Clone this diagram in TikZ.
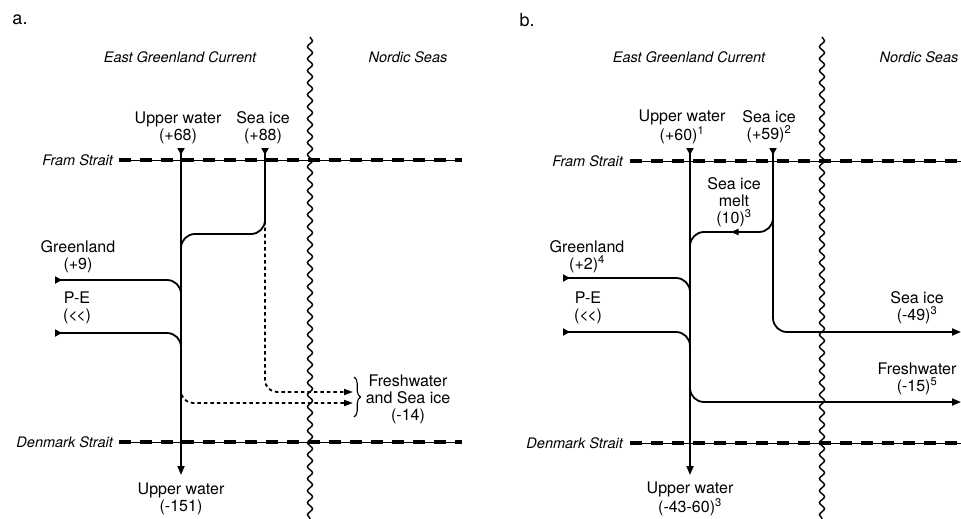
\documentclass[tikz,border=0pt]{standalone}
\usepackage{fontspec}
\setmainfont{TeX Gyre Heros}
\usetikzlibrary{arrows.meta,decorations.pathmorphing,decorations.pathreplacing,decorations.markings}
\begin{document}
\begin{tikzpicture}[x=1pt,y=-1pt,
  lbl/.style={font=\fontsize{16}{17}\selectfont, align=center, inner sep=0pt},
  reg/.style={font=\fontsize{14.5}{16}\selectfont\itshape, inner sep=0pt},
  panel/.style={font=\fontsize{18}{20}\selectfont, inner sep=0pt},
  flow/.style={line width=1.8pt, rounded corners=14pt},
  dots/.style={line width=1.8pt, dash pattern=on 3.5pt off 3pt, rounded corners=12pt},
  intip/.style={{Triangle[reversed,length=7pt,width=7pt]}-},
  outtip/.style={-{Triangle[length=9pt,width=7pt]}},
  bothtip/.style={{Triangle[reversed,length=7pt,width=7pt]}-{Triangle[length=9pt,width=7pt]}},
  strait/.style={line width=0.8pt},
  straitdash/.style={line width=3.2pt, dash pattern=on 12pt off 9pt},
  wave/.style={line width=1.4pt, decorate, decoration={snake, amplitude=2.5pt, segment length=12pt}},
  midtip/.style={postaction={decorate, decoration={markings, mark=at position 0.52 with {\arrow{Triangle[length=8pt,width=6pt]}}}}},
]
\useasboundingbox (0,0) rectangle (961,519);

% ---------------- panel a ----------------
\node[panel] (alab) at (20,20) {a.};
\node[reg] (aegc) at (180,57) {East Greenland Current};
\node[reg] (ans) at (408,57) {Nordic Seas};

\coordinate (aFramL) at (119,160); \coordinate (aFramR) at (462,160);
\coordinate (aDenL) at (119,442);  \coordinate (aDenR) at (462,442);
\node[reg, anchor=east] (afram) at (113,160) {Fram Strait};
\node[reg, anchor=east] (aden) at (113,442) {Denmark Strait};
\draw[strait] (aFramL) -- (aFramR);
\draw[straitdash] (aFramL) -- (aFramR);
\draw[strait] (aDenL) -- (aDenR);
\draw[straitdash] (aDenL) -- (aDenR);

\coordinate (aWaveT) at (310,37); \coordinate (aWaveB) at (310,519);
\draw[wave] (aWaveT) -- (aWaveB);

\node[lbl] (auwin) at (178,128) {Upper water\\(+68)};
\node[lbl] (asiin) at (263,128) {Sea ice\\(+88)};
\node[lbl] (agl) at (78,257) {Greenland\\(+9)};
\node[lbl] (ape) at (77,308) {P-E\\(<\kern-1.5pt<)};
\node[lbl] (afw) at (408,399) {Freshwater\\and Sea ice\\(-14)};
\node[lbl] (auwout) at (181,499) {Upper water\\(-151)};

\coordinate (aUWs) at (181,148); \coordinate (aUWe) at (181,475);
\draw[flow, bothtip] (aUWs) -- (aUWe);

\coordinate (aSIs) at (265,148); \coordinate (aSIc) at (265,234);
\coordinate (aSIm) at (181,234); \coordinate (aSIe) at (181,256);
\draw[flow, intip] (aSIs) -- (aSIc) -- (aSIm) -- (aSIe);

\coordinate (aGLs) at (55,280); \coordinate (aGLc) at (181,280); \coordinate (aGLe) at (181,302);
\draw[flow, intip] (aGLs) -- (aGLc) -- (aGLe);
\coordinate (aPEs) at (55,333); \coordinate (aPEc) at (181,333); \coordinate (aPEe) at (181,355);
\draw[flow, intip] (aPEs) -- (aPEc) -- (aPEe);

\coordinate (aD1s) at (265,221); \coordinate (aD1c) at (265,392); \coordinate (aD1e) at (353,392);
\draw[dots, -{Triangle[length=9pt,width=6pt]}] (aD1s) -- (aD1c) -- (aD1e);
\coordinate (aD2s) at (181,388); \coordinate (aD2c) at (181,403); \coordinate (aD2e) at (353,403);
\draw[dots, -{Triangle[length=9pt,width=6pt]}] (aD2s) -- (aD2c) -- (aD2e);

\coordinate (aBrT) at (354,377); \coordinate (aBrB) at (354,417);
\draw[line width=1.1pt, decorate, decoration={brace, amplitude=6.5pt}] (aBrT) -- (aBrB);

% ---------------- panel b ----------------
\node[panel] (blab) at (527,20) {b.};
\node[reg] (begc) at (689,57) {East Greenland Current};
\node[reg] (bns) at (919,57) {Nordic Seas};

\coordinate (bFramL) at (630,161); \coordinate (bFramR) at (961,161);
\coordinate (bDenL) at (630,443);  \coordinate (bDenR) at (961,443);
\node[reg, anchor=east] (bfram) at (623,161) {Fram Strait};
\node[reg, anchor=east] (bden) at (623,443) {Denmark Strait};
\draw[strait] (bFramL) -- (bFramR);
\draw[straitdash] (bFramL) -- (bFramR);
\draw[strait] (bDenL) -- (bDenR);
\draw[straitdash] (bDenL) -- (bDenR);

\coordinate (bWaveT) at (822,37); \coordinate (bWaveB) at (822,519);
\draw[wave] (bWaveT) -- (bWaveB);

\node[lbl] (buwin) at (682,127) {Upper water\\(+60)\textsuperscript{1}};
\node[lbl] (bsiin) at (769,127) {Sea ice\\(+59)\textsuperscript{2}};
\node[lbl] (bmelt) at (734,202) {Sea ice\\melt\\(10)\textsuperscript{3}};
\node[lbl] (bgl) at (587,257) {Greenland\\(+2)\textsuperscript{4}};
\node[lbl] (bpe) at (588,308) {P-E\\(<\kern-1.5pt<)};
\node[lbl] (bsiout) at (917,308) {Sea ice\\(-49)\textsuperscript{3}};
\node[lbl] (bfw) at (917,379) {Freshwater\\(-15)\textsuperscript{5}};
\node[lbl] (buwout) at (690,499) {Upper water\\(-43-60)\textsuperscript{3}};

\coordinate (bUWs) at (690,148); \coordinate (bUWe) at (690,475);
\draw[flow, bothtip] (bUWs) -- (bUWe);

\coordinate (bSIs) at (773,148); \coordinate (bSIc) at (773,332); \coordinate (bSIe) at (961,332);
\draw[flow, bothtip] (bSIs) -- (bSIc) -- (bSIe);

\coordinate (bMs) at (773,205); \coordinate (bMc) at (773,232);
\coordinate (bMm) at (690,232); \coordinate (bMe) at (690,256);
\draw[flow, midtip] (bMs) -- (bMc) -- (bMm) -- (bMe);

\coordinate (bGLs) at (563,278); \coordinate (bGLc) at (690,278); \coordinate (bGLe) at (690,300);
\draw[flow, intip] (bGLs) -- (bGLc) -- (bGLe);
\coordinate (bPEs) at (563,332); \coordinate (bPEc) at (690,332); \coordinate (bPEe) at (690,354);
\draw[flow, intip] (bPEs) -- (bPEc) -- (bPEe);

\coordinate (bFWs) at (690,380); \coordinate (bFWc) at (690,402); \coordinate (bFWe) at (961,402);
\draw[flow, outtip] (bFWs) -- (bFWc) -- (bFWe);
\end{tikzpicture}
\end{document}
